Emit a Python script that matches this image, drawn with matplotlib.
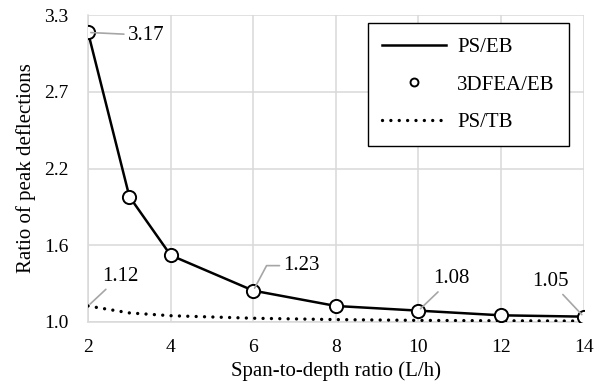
import matplotlib
matplotlib.use("Agg")
import matplotlib.pyplot as plt

# data
span_ratio = [2, 3, 4, 6, 8, 10, 12, 14]
ps_eb = [3.17, 1.94, 1.50, 1.235, 1.12, 1.085, 1.05, 1.04]
fea_eb = [3.17, 1.94, 1.50, 1.235, 1.12, 1.085, 1.05, 1.04]
ps_tb = [1.12, 1.068, 1.047, 1.028, 1.018, 1.012, 1.009, 1.007]

y_ticks = [1.0, 1.575, 2.15, 2.725, 3.3]
y_labels = ["1.0", "1.6", "2.2", "2.7", "3.3"]
x_ticks = [2, 4, 6, 8, 10, 12, 14]

# callouts: (series, index, label, text offset in points, connection)
callouts = [
    (ps_eb, 0, "3.17", (42, -2), "arc3"),
    (ps_eb, 3, "1.23", (35, 18), "angle,angleA=0,angleB=62,rad=0"),
    (ps_eb, 5, "1.08", (24, 23), "arc3"),
    (ps_eb, 7, "1.05", (-24, 25.5), "arc3"),
    (ps_tb, 0, "1.12", (23, 21.5), "arc3"),
]

plt.rcParams['font.family'] = ['Liberation Serif', 'DejaVu Serif']
plt.rcParams['font.size'] = 15

fig = plt.figure(figsize=(5.95, 3.87), dpi=100)
ax = fig.add_axes([0.148, 0.168, 0.833, 0.793])

ax.plot(span_ratio, ps_eb, color='black', lw=1.8, label='PS/EB', zorder=3)
ax.plot(span_ratio, fea_eb, ls='none', marker='o', ms=9.5, mfc='white',
        mec='black', mew=1.4, label='3DFEA/EB', zorder=4)
ax.plot(span_ratio, ps_tb, color='black', lw=2.4, ls=(0, (0.01, 2.5)),
        dash_capstyle='round', label='PS/TB', zorder=3)

for series, i, txt, off, conn in callouts:
    ax.annotate(txt, xy=(span_ratio[i], series[i]), xytext=off,
                textcoords='offset points', ha='center', va='center',
                fontsize=15,
                arrowprops=dict(arrowstyle='-', color='#a6a6a6', lw=1.2,
                                shrinkA=1, shrinkB=2,
                                connectionstyle=conn),
                zorder=5)

ax.set_xlim(2, 14)
ax.set_ylim(1.0, 3.3)
ax.set_xticks(x_ticks)
ax.set_yticks(y_ticks)
ax.set_yticklabels(y_labels)
ax.tick_params(length=0, labelsize=14)
ax.tick_params(axis='y', pad=14)
ax.tick_params(axis='x', pad=12)
ax.grid(True, color='#d9d9d9', lw=1.1)
ax.set_axisbelow(True)
for side in ['top', 'right']:
    ax.spines[side].set_visible(False)
for side in ['left', 'bottom']:
    ax.spines[side].set_color('#d9d9d9')
    ax.spines[side].set_linewidth(1.1)

ax.set_xlabel('Span-to-depth ratio (L/h)', labelpad=4)
ax.set_ylabel('Ratio of peak deflections', labelpad=6)

leg = ax.legend(loc='upper right', bbox_to_anchor=(0.9705, 0.974),
                borderaxespad=0, frameon=True, fancybox=False,
                edgecolor='black', framealpha=1, handlelength=3.07,
                handletextpad=0.53, labelspacing=0.87, borderpad=0.68,
                markerscale=0.6)
leg.get_frame().set_linewidth(1.0)

fig.savefig('out.png', dpi=100, facecolor='white')
